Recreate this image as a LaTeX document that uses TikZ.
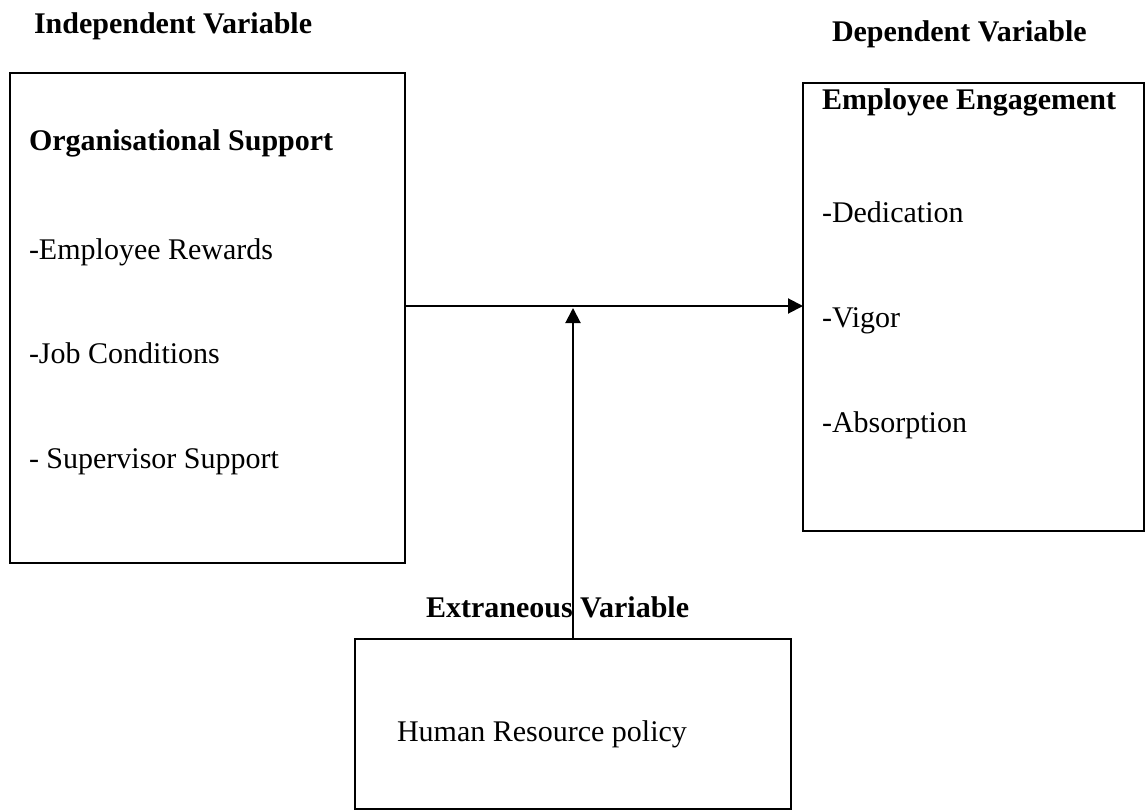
\documentclass[tikz,border=0pt]{standalone}
\usepackage{fontspec}
\setmainfont{Liberation Serif}
\usetikzlibrary{arrows.meta}
\tikzset{
  box/.style={draw, line width=2pt, rectangle, inner sep=0pt, outer sep=0pt},
  lbl/.style={anchor=base west, inner sep=0pt, outer sep=0pt, font=\fontsize{30}{36}\selectfont},
  hd/.style={lbl, font=\fontsize{30}{36}\selectfont\bfseries},
  arr/.style={line width=2pt, -{Triangle[length=15pt,width=15pt]}}
}
\begin{document}
\begin{tikzpicture}[x=1pt,y=-1pt]
\useasboundingbox (0,0) rectangle (1145,810);
% boxes
\node[box, minimum width=395.5pt, minimum height=490pt] (ind) at (207.25,318) {};
\node[box, minimum width=340.5pt, minimum height=448pt] (dep) at (973.25,307) {};
\node[box, minimum width=436pt, minimum height=170pt] (ext) at (573,724) {};
% headings
\node[hd] (tind) at (34,34) {Independent Variable};
\node[hd] (tdep) at (832,42) {Dependent Variable};
\node[hd] (text) at (426,617) {Extraneous Variable};
% left box contents
\node[hd] (os) at (29,151) {Organisational Support};
\node[lbl] (er) at (29,260) {-Employee Rewards};
\node[lbl] (jc) at (29,363) {-Job Conditions};
\node[lbl] (ss) at (29,468) {- Supervisor Support};
% right box contents
\node[hd] (ee) at (822,110) {Employee Engagement};
\node[lbl] (de) at (822,223) {-Dedication};
\node[lbl] (vi) at (822,327) {-Vigor};
\node[lbl] (ab) at (822,432) {-Absorption};
% bottom box contents
\node[lbl] (hr) at (397,741) {Human Resource policy};
% connectors
\coordinate (mid) at (573,306);
\coordinate (meet) at (573,308);
\draw[arr] (ind.east |- mid) -- (dep.west |- mid);
\draw[arr] (ext.north) -- (meet);
\end{tikzpicture}
\end{document}
